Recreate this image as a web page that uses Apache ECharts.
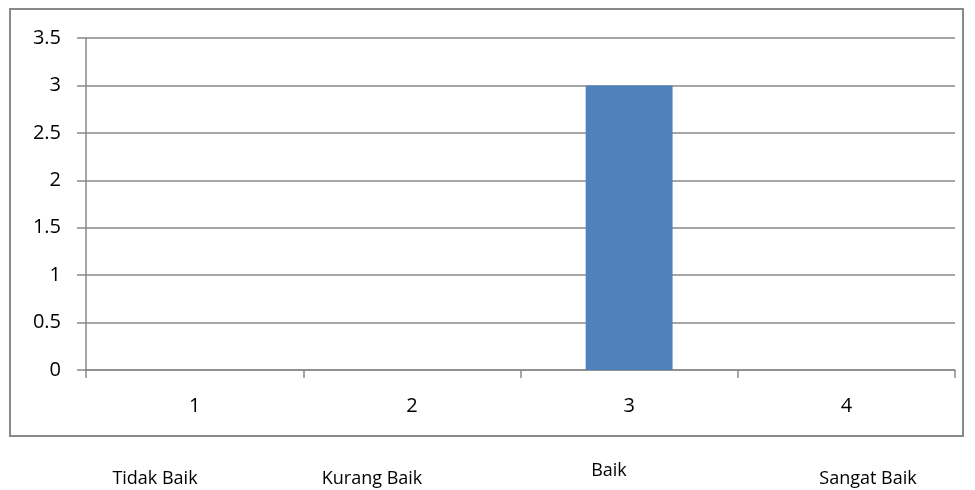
<!DOCTYPE html>
<html>
<head>
<meta charset="utf-8">
<script src="https://cdn.jsdelivr.net/npm/echarts@6/dist/echarts.min.js"></script>
<style>
  html, body { margin: 0; padding: 0; background: #fff; }
  #chart { width: 975px; height: 490px; }
</style>
</head>
<body>
<div id="chart"></div>
<script>
// data
const categories = ['1', '2', '3', '4'];
const values = [0, 0, 3, 0];
const ratingLabels = ['Tidak Baik', 'Kurang Baik', 'Baik', 'Sangat Baik'];
const yTicks = [0, 0.5, 1, 1.5, 2, 2.5, 3, 3.5];

const chart = echarts.init(document.getElementById('chart'));
const font = '"Open Sans", "Liberation Sans", sans-serif';
const grey = '#898989';

// where the rating captions sit under the frame
const ratingPos = [[155, 479], [372, 479], [609, 471], [868, 479]];

const option = {
  animation: false,
  textStyle: { fontFamily: font },
  grid: { left: 86, right: 20, top: 38, bottom: 120, containLabel: false },
  xAxis: {
    type: 'category',
    data: categories,
    boundaryGap: true,
    axisLine: { lineStyle: { color: grey, width: 1.5 } },
    axisTick: { show: true, length: 8, lineStyle: { color: grey, width: 1.5 } },
    axisLabel: { color: '#000', fontSize: 20, margin: 26, fontFamily: font }
  },
  yAxis: {
    type: 'value',
    min: 0,
    max: yTicks[yTicks.length - 1],
    interval: 0.5,
    axisLine: { show: true, lineStyle: { color: grey, width: 1.5 } },
    axisTick: { show: true, length: 9, lineStyle: { color: grey, width: 1.5 } },
    axisLabel: { color: '#000', fontSize: 20, margin: 25, fontFamily: font },
    splitLine: { show: true, lineStyle: { color: grey, width: 1.5 } }
  },
  series: [{
    type: 'bar',
    data: values,
    barWidth: '40%',
    itemStyle: { color: '#4F81BD' }
  }],
  graphic: [{
    type: 'rect',
    shape: { x: 10, y: 9, width: 953, height: 427 },
    style: { fill: 'none', stroke: grey, lineWidth: 2 },
    silent: true
  }].concat(ratingLabels.map((t, i) => ({
    type: 'text',
    x: ratingPos[i][0],
    y: ratingPos[i][1],
    style: {
      text: t,
      fill: '#000',
      font: '18px ' + font,
      align: 'center',
      verticalAlign: 'middle'
    }
  })))
};

chart.setOption(option);
</script>
</body>
</html>
